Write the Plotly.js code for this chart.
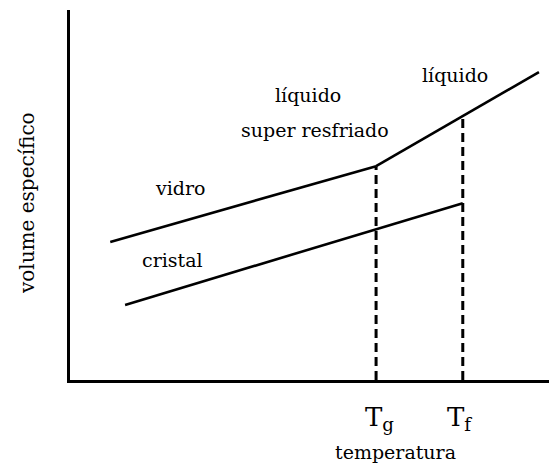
<!DOCTYPE html>
<html>
<head>
<meta charset="utf-8">
<script src="https://cdn.plot.ly/plotly-3.0.1.min.js"></script>
<style>
  html, body { margin: 0; padding: 0; background: #fff; }
  #plot { width: 549px; height: 466px; }
</style>
</head>
<body>
<div id="plot"></div>
<script>
// transition temperatures (arbitrary units along the temperature axis)
const Tg = 63.9;
const Tf = 82.0;

// glass branch: cold end -> Tg
const vidroX = [8.4, Tg];
const vidroY = [37.3, 57.8];

// liquid branch: Tg -> Tf -> hot end
const liquidoX = [Tg, Tf, 97.9];
const liquidoY = [57.8, 71.4, 83.2];

// crystal branch
const cristalX = [11.5, Tf];
const cristalY = [20.3, 47.8];

// text labels inside the plot
const labelText = ["vidro", "cristal", "líquido", "super resfriado", "líquido"];
const labelX = [23.0, 21.3, 49.7, 51.1, 80.4];
const labelY = [51.9, 32.4, 77.0, 67.6, 82.4];

const serif = "DejaVu Serif, Liberation Serif, serif";
const font = { family: serif, size: 19, color: "#000" };
const bigFont = { family: serif, size: 26, color: "#000" };

function solid(x, y) {
  return {
    x: x, y: y, type: "scatter", mode: "lines",
    line: { color: "#000", width: 2.6 },
    hoverinfo: "skip", showlegend: false,
  };
}

function dashed(xv, ytop) {
  return {
    x: [xv, xv], y: [0, ytop], type: "scatter", mode: "lines",
    line: { color: "#000", width: 3, dash: "9px,5px" },
    hoverinfo: "skip", showlegend: false,
  };
}

const traces = [
  solid(vidroX, vidroY),
  solid(liquidoX, liquidoY),
  solid(cristalX, cristalY),
  dashed(Tg, vidroY[1]),
  dashed(Tf, liquidoY[1]),
];

const annotations = labelText.map((t, i) => ({
  text: t, x: labelX[i], y: labelY[i], xref: "x", yref: "y",
  showarrow: false, font: font, xanchor: "center", yanchor: "middle",
}));

annotations.push(
  { text: "T<sub>g</sub>", x: Tg, y: -0.055, xref: "x", yref: "paper",
    showarrow: false, font: bigFont, xanchor: "center", yanchor: "top", xshift: 3 },
  { text: "T<sub>f</sub>", x: Tf, y: -0.055, xref: "x", yref: "paper",
    showarrow: false, font: bigFont, xanchor: "center", yanchor: "top", xshift: -3 },
  { text: "temperatura", x: 0.68, y: -0.195, xref: "paper", yref: "paper",
    showarrow: false, font: font, xanchor: "center", yanchor: "middle" },
  { text: "volume específico", x: -0.09, y: 0.478, xref: "paper", yref: "paper",
    showarrow: false, font: { family: serif, size: 20, color: "#000" },
    textangle: -90, xanchor: "center", yanchor: "middle" }
);

const layout = {
  width: 549,
  height: 466,
  margin: { l: 70, r: 0, t: 10, b: 86 },
  paper_bgcolor: "#fff",
  plot_bgcolor: "#fff",
  xaxis: {
    range: [0, 100], showgrid: false, zeroline: false, showticklabels: false,
    ticks: "", showline: true, linecolor: "#000", linewidth: 3,
  },
  yaxis: {
    range: [0, 100], showgrid: false, zeroline: false, showticklabels: false,
    ticks: "", showline: true, linecolor: "#000", linewidth: 3,
  },
  annotations: annotations,
  showlegend: false,
};

Plotly.newPlot("plot", traces, layout, { displayModeBar: false, staticPlot: true });
</script>
</body>
</html>
